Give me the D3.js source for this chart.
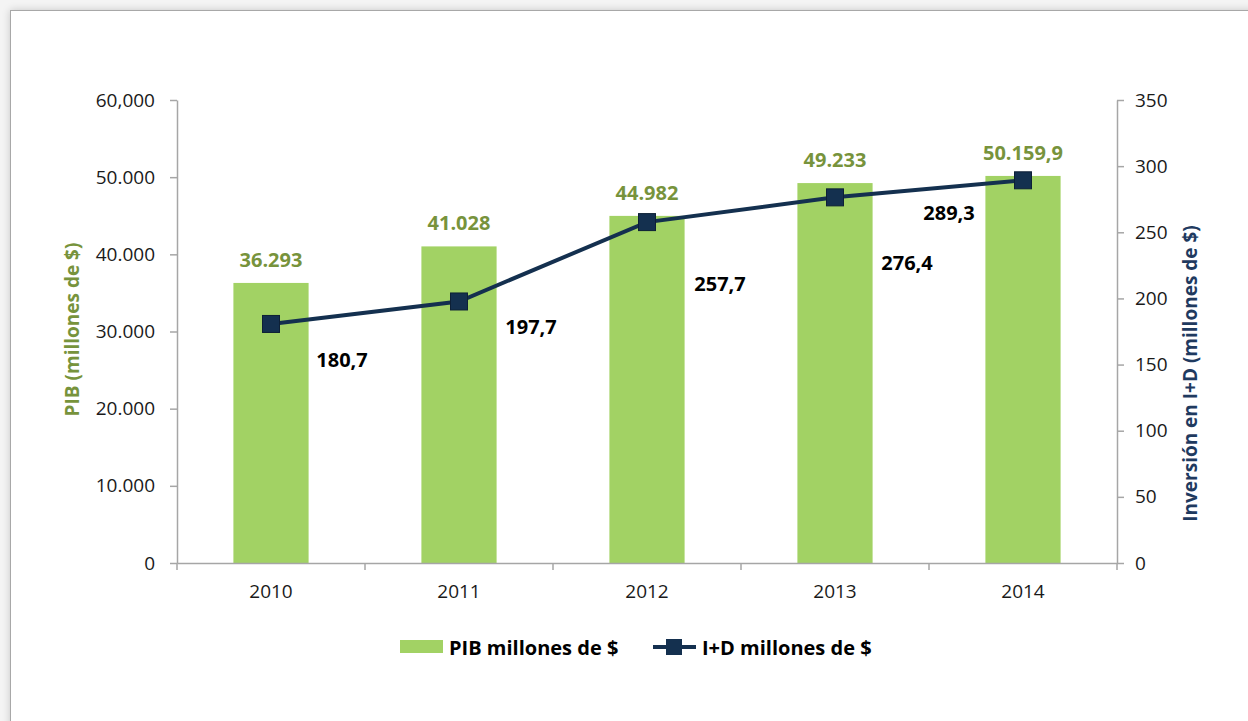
<!DOCTYPE html>
<html>
<head>
<meta charset="utf-8" />
<title>PIB e I+D</title>
<style>
  html, body { margin: 0; padding: 0; }
  body {
    background: #f4f4f4;
    width: 1248px;
    height: 721px;
    overflow: hidden;
    position: relative;
    font-family: "Open Sans", sans-serif;
  }
  .card {
    position: absolute;
    left: 10px;
    top: 10px;
    width: 1300px;
    height: 800px;
    background: #fff;
    border: 1px solid #a8a8a8;
    box-shadow: 0 0 8px rgba(0, 0, 0, 0.18);
  }
  svg { position: absolute; left: 0; top: 0; }
  .tick text { font-family: "Open Sans", sans-serif; font-size: 19px; fill: #1a1a1a; }
  .axis path, .axis line { stroke: #a6a6a6; stroke-width: 1.5px; }
</style>
<script src="https://cdnjs.cloudflare.com/ajax/libs/d3/7.8.5/d3.min.js"></script>
</head>
<body>
<div class="card"></div>
<svg id="chart" width="1248" height="721"></svg>
<script>
  // data
  var years = ['2010', '2011', '2012', '2013', '2014'];
  var pib = [36293, 41028, 44982, 49233, 50159.9];
  var pibLabels = ['36.293', '41.028', '44.982', '49.233', '50.159,9'];
  var inv = [180.7, 197.7, 257.7, 276.4, 289.3];
  var invLabels = ['180,7', '197,7', '257,7', '276,4', '289,3'];
  var leftTicks = [0, 10000, 20000, 30000, 40000, 50000, 60000];
  var leftTickLabels = ['0', '10.000', '20.000', '30.000', '40.000', '50.000', '60,000'];
  var rightTicks = [0, 50, 100, 150, 200, 250, 300, 350];

  // where excel put the line labels (offset from the marker)
  var invLabelOffset = [[71, 36], [72, 25], [73, 61], [72, 65], [-74, 32]];

  var pL = 177, pR = 1117, pT = 100, pB = 563;
  var green = '#a2d264', navy = '#14304f';

  var svg = d3.select('#chart');

  var x = d3.scaleBand()
    .domain(years)
    .range([pL, pR])
    .paddingInner(0.6)
    .paddingOuter(0.3);

  var y = d3.scaleLinear().domain([0, 60000]).range([pB, pT]);
  var y2 = d3.scaleLinear().domain([0, 350]).range([pB, pT]);

  // bars
  svg.append('g').selectAll('rect')
    .data(pib)
    .enter().append('rect')
    .attr('x', (d, i) => x(years[i]))
    .attr('width', x.bandwidth())
    .attr('y', d => y(d))
    .attr('height', d => pB - y(d))
    .attr('fill', green);

  svg.append('g').selectAll('text')
    .data(pib)
    .enter().append('text')
    .attr('x', (d, i) => x(years[i]) + x.bandwidth() / 2)
    .attr('y', d => y(d) - 16)
    .attr('text-anchor', 'middle')
    .style('font-size', '20px')
    .style('font-weight', 'bold')
    .style('fill', '#77933c')
    .text((d, i) => pibLabels[i]);

  // axes
  svg.append('g')
    .attr('class', 'axis')
    .attr('transform', 'translate(' + pL + ',0)')
    .call(d3.axisLeft(y)
      .tickValues(leftTicks)
      .tickFormat((d, i) => leftTickLabels[i])
      .tickSize(7)
      .tickSizeOuter(0)
      .tickPadding(15));

  svg.append('g')
    .attr('class', 'axis')
    .attr('transform', 'translate(' + pR + ',0)')
    .call(d3.axisRight(y2)
      .tickValues(rightTicks)
      .tickSize(7)
      .tickSizeOuter(0)
      .tickPadding(11));

  var xAxis = svg.append('g')
    .attr('class', 'axis')
    .attr('transform', 'translate(0,' + pB + ')')
    .call(d3.axisBottom(x).tickSize(0).tickSizeOuter(0).tickPadding(22));

  var gap = (x.step() - x.bandwidth()) / 2;
  var bounds = years.map(d => x(d) - gap).concat([x(years[years.length - 1]) + x.bandwidth() + gap]);
  xAxis.selectAll('.bound')
    .data(bounds)
    .enter().append('line')
    .attr('class', 'bound')
    .attr('x1', d => d)
    .attr('x2', d => d)
    .attr('y1', 0)
    .attr('y2', 7);

  // line
  var line = d3.line()
    .x((d, i) => x(years[i]) + x.bandwidth() / 2)
    .y(d => y2(d));

  svg.append('path')
    .datum(inv)
    .attr('d', line)
    .attr('fill', 'none')
    .attr('stroke', navy)
    .attr('stroke-width', 4);

  var sz = 17;
  svg.append('g').selectAll('rect')
    .data(inv)
    .enter().append('rect')
    .attr('x', (d, i) => x(years[i]) + x.bandwidth() / 2 - sz / 2)
    .attr('y', d => y2(d) - sz / 2)
    .attr('width', sz)
    .attr('height', sz)
    .attr('fill', navy)
    .attr('stroke', '#0d2036')
    .attr('stroke-width', 1);

  svg.append('g').selectAll('text')
    .data(inv)
    .enter().append('text')
    .attr('x', (d, i) => x(years[i]) + x.bandwidth() / 2 + invLabelOffset[i][0])
    .attr('y', (d, i) => y2(d) + invLabelOffset[i][1])
    .attr('text-anchor', 'middle')
    .attr('dominant-baseline', 'central')
    .style('font-size', '20px')
    .style('font-weight', 'bold')
    .style('fill', '#000')
    .text((d, i) => invLabels[i]);

  // axis titles
  svg.append('text')
    .attr('transform', 'translate(72,' + ((pT + pB) / 2 - 2) + ') rotate(-90)')
    .attr('text-anchor', 'middle')
    .attr('dominant-baseline', 'central')
    .style('font-size', '19px')
    .style('font-weight', 'bold')
    .style('fill', '#77933c')
    .text('PIB (millones de $)');

  svg.append('text')
    .attr('transform', 'translate(1190,' + ((pT + pB) / 2 + 42) + ') rotate(-90)')
    .attr('text-anchor', 'middle')
    .attr('dominant-baseline', 'central')
    .style('font-size', '19px')
    .style('font-weight', 'bold')
    .style('fill', '#1f3a5f')
    .text('Inversión en I+D (millones de $)');

  // legend
  var leg = svg.append('g').attr('transform', 'translate(400,646)');
  leg.append('rect')
    .attr('x', 0).attr('y', -6)
    .attr('width', 43).attr('height', 13)
    .attr('fill', green);
  leg.append('text')
    .attr('x', 49).attr('y', 1)
    .attr('dominant-baseline', 'central')
    .style('font-size', '20px')
    .style('font-weight', 'bold')
    .text('PIB millones de $');
  leg.append('line')
    .attr('x1', 253).attr('x2', 296)
    .attr('y1', 1).attr('y2', 1)
    .attr('stroke', navy).attr('stroke-width', 4);
  leg.append('rect')
    .attr('x', 274 - 8).attr('y', 1 - 8)
    .attr('width', 16).attr('height', 16)
    .attr('fill', navy);
  leg.append('text')
    .attr('x', 302).attr('y', 1)
    .attr('dominant-baseline', 'central')
    .style('font-size', '20px')
    .style('font-weight', 'bold')
    .text('I+D millones de $');
</script>
</body>
</html>
